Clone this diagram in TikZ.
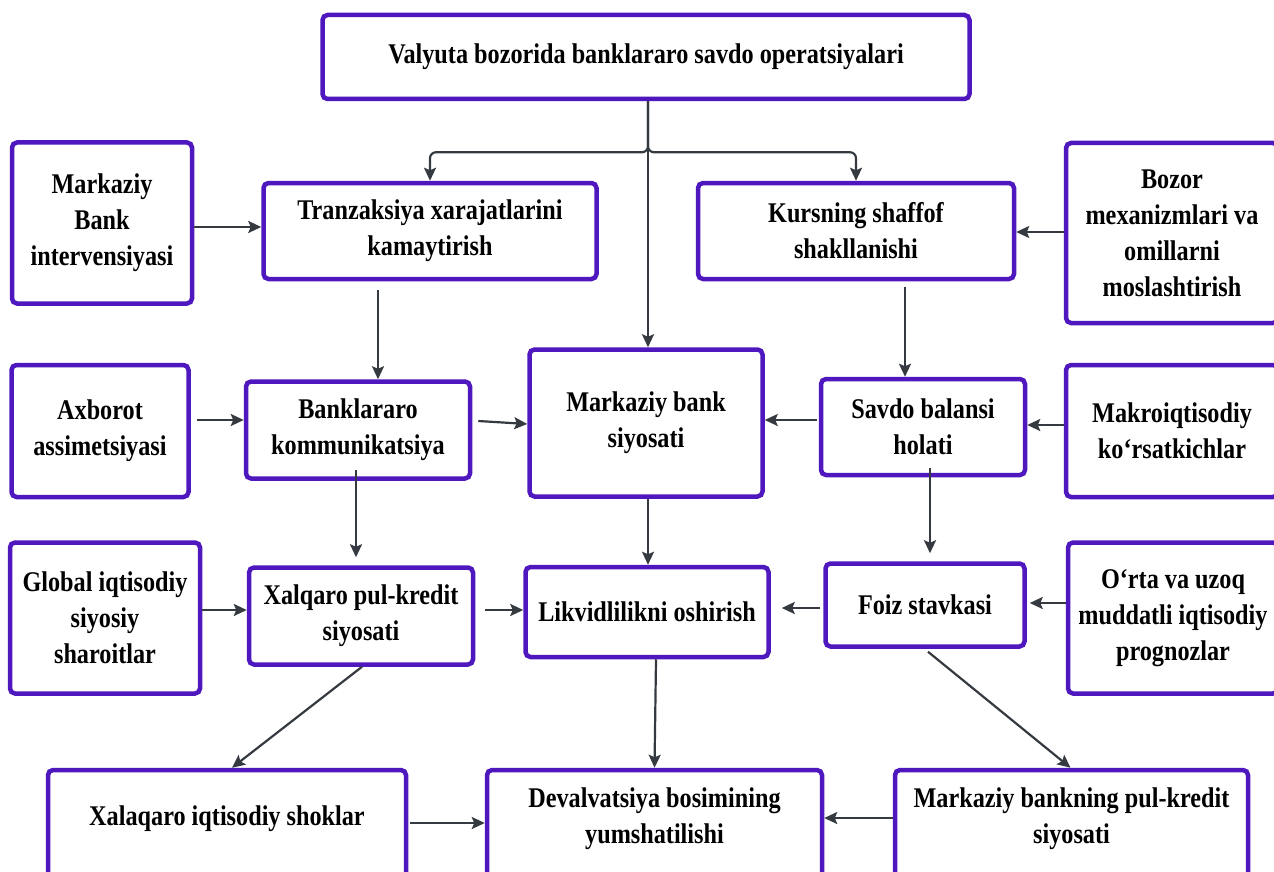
\documentclass[tikz,border=0pt]{standalone}
\usepackage{fontspec}
\setmainfont{Liberation Serif}[FakeStretch=0.85]
\usetikzlibrary{arrows.meta}
\definecolor{ramka}{RGB}{78,24,190}
\definecolor{strelka}{RGB}{52,58,64}
\tikzstyle{block} = [rectangle, rounded corners=5pt, draw=ramka, line width=4.5pt, fill=white, align=center, inner sep=0pt, font=\bfseries\fontsize{28.5}{36}\selectfont]
\tikzstyle{blockcut} = [block, minimum height=114pt, text depth=22pt]
\tikzstyle{arrow} = [line width=2.2pt, draw=strelka, ->, >={Stealth[length=13pt, width=12pt, inset=2.5pt]}]

\begin{document}
\begin{tikzpicture}[x=1pt, y=1pt, node distance=100pt]
	\useasboundingbox (0,0) rectangle (1274,-872);

	\node (B1) [block, minimum width=647pt, minimum height=84pt] at (646,-57) {Valyuta bozorida banklararo savdo operatsiyalari};

	% ustki qator
	\node (B3) [block, below of = B1, xshift=-216pt, yshift=-74pt, minimum width=333pt, minimum height=96pt] {Tranzaksiya xarajatlarini\\kamaytirish};
	\node (B4) [block, below of = B1, xshift=210pt, yshift=-74pt, minimum width=316pt, minimum height=96pt] {Kursning shaffof\\shakllanishi};
	\node (B2) [block, left of = B3, xshift=-228pt, yshift=8pt, minimum width=180pt, minimum height=161pt] {Markaziy\\Bank\\intervensiyasi};
	\node (B5) [block, right of = B4, xshift=216pt, yshift=-2pt, minimum width=212pt, minimum height=180pt] {Bozor\\mexanizmlari va\\omillarni\\moslashtirish};

	% o'rta qator
	\node (B8) [block, below of = B1, yshift=-266pt, minimum width=233pt, minimum height=147pt] {Markaziy bank\\siyosati};
	\node (B7) [block, below of = B3, xshift=-72pt, yshift=-99pt, minimum width=224pt, minimum height=97pt] {Banklararo\\kommunikatsiya};
	\node (B9) [block, below of = B4, xshift=67pt, yshift=-96pt, minimum width=204pt, minimum height=96pt] {Savdo balansi\\holati};
	\node (B6) [block, left of = B7, xshift=-158pt, yshift=-1pt, minimum width=177pt, minimum height=132pt] {Axborot\\assimetsiyasi};
	\node (B10) [block, right of = B9, xshift=149pt, yshift=-4pt, minimum width=212pt, minimum height=132pt] {Makroiqtisodiy\\ko‘rsatkichlar};

	% pastki qator
	\node (B13) [block, below of = B8, xshift=1pt, yshift=-89pt, minimum width=243pt, minimum height=90pt] {Likvidlilikni oshirish};
	\node (B12) [block, below of = B7, xshift=3pt, yshift=-86pt, minimum width=224pt, minimum height=97pt] {Xalqaro pul-kredit\\siyosati};
	\node (B14) [block, below of = B9, xshift=2pt, yshift=-78pt, minimum width=199pt, minimum height=83pt] {Foiz stavkasi};
	\node (B11) [block, left of = B12, xshift=-156pt, yshift=-2pt, minimum width=190pt, minimum height=151pt] {Global iqtisodiy\\siyosiy\\sharoitlar};
	\node (B15) [block, right of = B14, xshift=148pt, yshift=-13pt, minimum width=210pt, minimum height=151pt] {O‘rta va uzoq\\muddatli iqtisodiy\\prognozlar};

	\node (B17) [blockcut, below of = B13, xshift=7.5pt, yshift=-115pt, minimum width=335pt] {Devalvatsiya bosimining\\yumshatilishi};
	\node (B16) [blockcut, left of = B17, xshift=-327.5pt, minimum width=358pt] {Xalaqaro iqtisodiy shoklar};
	\node (B18) [blockcut, right of = B17, xshift=317pt, minimum width=353pt] {Markaziy bankning pul-kredit\\siyosati};

				\draw [arrow] ([xshift=2pt]B1.south) -- ([xshift=2pt]B8.north);
				\draw [arrow, rounded corners=6pt] ([xshift=2pt]B1.south) -- ++(0,-51) -| (B3.north);
				\draw [arrow, rounded corners=6pt] ([xshift=2pt]B1.south) -- ++(0,-51) -| (B4.north);
				\draw [arrow] ([yshift=-4pt]B2.east) -- ([yshift=4pt]B3.west);
				\draw [arrow] ([yshift=1pt]B5.west) -- ([yshift=-1pt]B4.east);
				\draw [arrow] ([xshift=-52pt, yshift=-9pt]B3.south) -- ([xshift=20pt]B7.north);
				\draw [arrow] ([xshift=49pt, yshift=-6pt]B4.south) -- ([xshift=-18pt]B9.north);

				\draw [arrow] ([xshift=6pt, yshift=11pt]B6.east) -- ([yshift=10pt]B7.west);
				\draw [arrow] ([xshift=6pt, yshift=9pt]B7.east) -- ([yshift=-1pt]B8.west);
				\draw [arrow] ([xshift=-2pt, yshift=7pt]B9.west) -- ([yshift=3pt]B8.east);
				\draw [arrow] ([yshift=6pt]B10.west) -- ([yshift=2pt]B9.east);
				\draw [arrow] ([xshift=-2pt, yshift=11pt]B7.south) -- ([xshift=-5pt, yshift=8pt]B12.north);
				\draw [arrow] ([xshift=2pt]B8.south) -- ([xshift=1pt]B13.north);
				\draw [arrow] ([xshift=7pt, yshift=9pt]B9.south) -- ([xshift=5pt, yshift=8pt]B14.north);

				\draw [arrow] ([yshift=8pt]B11.east) -- ([yshift=6pt]B12.west);
				\draw [arrow] ([xshift=10pt, yshift=6pt]B12.east) -- ([yshift=2pt]B13.west);
				\draw [arrow] ([xshift=-3pt, yshift=-3pt]B14.west) -- ([xshift=11pt, yshift=4pt]B13.east);
				\draw [arrow] ([yshift=15pt]B15.west) -- ([xshift=3pt, yshift=2pt]B14.east);
				\draw [arrow] ([xshift=1pt]B12.south) -- ([xshift=5pt]B16.north);
				\draw [arrow] ([xshift=9pt]B13.south) -- (B17.north);
				\draw [arrow] ([xshift=3pt, yshift=-3pt]B14.south) -- ([xshift=-1pt]B18.north);

				\draw [arrow] ([xshift=2pt, yshift=4pt]B16.east) -- ([yshift=4pt]B17.west);
				\draw [arrow] ([yshift=9pt]B18.west) -- ([yshift=9pt]B17.east);
\end{tikzpicture}
\end{document}
